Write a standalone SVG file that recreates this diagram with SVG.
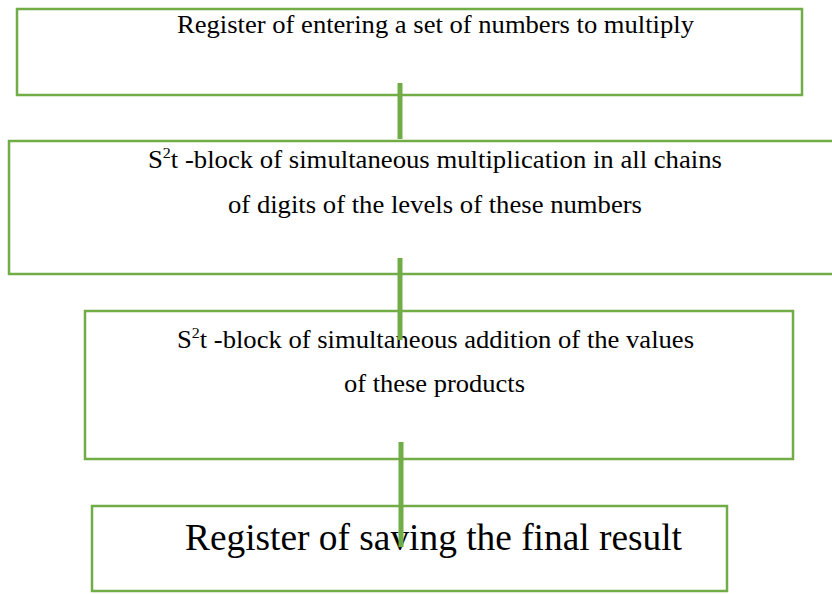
<svg xmlns="http://www.w3.org/2000/svg" width="832" height="594" viewBox="0 0 832 594">
<style>
.box{fill:#fff;stroke:#70AD47;stroke-width:2.5}
.t{font-family:"Liberation Serif","Times New Roman",serif;fill:#000;font-size:25px}
.c{stroke:#70AD47;stroke-width:5;fill:none}
</style>
<rect width="832" height="594" fill="#fff"/>
<g id="n1"><rect class="box" x="17" y="9" width="785" height="86"/>
<text class="t" x="177" y="33" textLength="517" lengthAdjust="spacingAndGlyphs">Register of entering a set of numbers to multiply</text></g>
<g id="n2"><rect class="box" x="9" y="141" width="830" height="133"/>
<text class="t" x="148" y="168" textLength="574" lengthAdjust="spacingAndGlyphs">S<tspan dy="-10" font-size="15">2</tspan><tspan dy="10">t -block of simultaneous multiplication in all chains</tspan></text>
<text class="t" x="228" y="213" textLength="414" lengthAdjust="spacingAndGlyphs">of digits of the levels of these numbers</text></g>
<g id="n3"><rect class="box" x="85" y="311" width="708" height="148"/>
<text class="t" x="177" y="348" textLength="517" lengthAdjust="spacingAndGlyphs">S<tspan dy="-10" font-size="15">2</tspan><tspan dy="10">t -block of simultaneous addition of the values</tspan></text>
<text class="t" x="344" y="392" textLength="181" lengthAdjust="spacingAndGlyphs">of these products</text></g>
<g id="n4"><rect class="box" x="92" y="506" width="635" height="85"/>
<text class="t" x="185" y="550" style="font-size:37px" textLength="497" lengthAdjust="spacingAndGlyphs">Register of saving the final result</text></g>
<g id="connectors">
<line class="c" x1="400" y1="83" x2="400" y2="139"/>
<line class="c" x1="400" y1="258" x2="400" y2="340"/>
<line class="c" x1="401" y1="442" x2="401" y2="547"/>
</g>
</svg>
